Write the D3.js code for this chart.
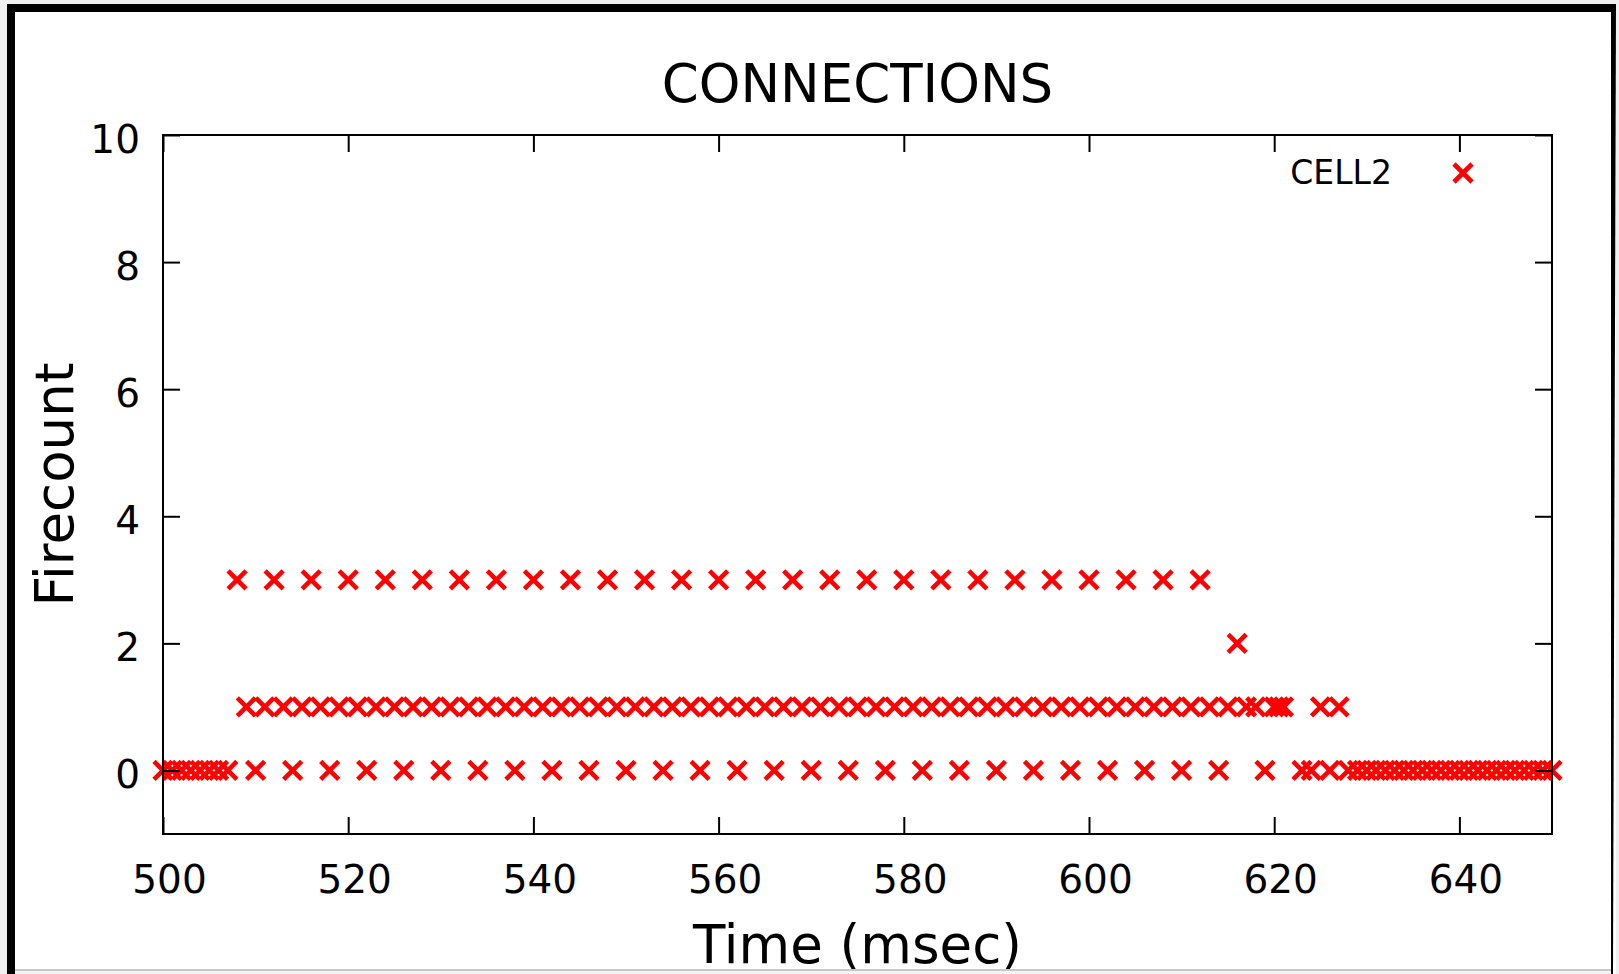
<!DOCTYPE html>
<html>
<head>
<meta charset="utf-8">
<script src="https://cdn.jsdelivr.net/npm/d3@7"></script>
<style>
  html, body { margin: 0; padding: 0; background: #f0f0f0; }
  svg { display: block; }
</style>
</head>
<body>
<div class="chart"></div>
<script>
// spike times (msec) per firecount level
const times0 = [500, 501, 502, 503, 504, 505, 506, 507,
    510, 514, 518, 522, 526, 530, 534, 538, 542, 546, 550, 554, 558, 562, 566, 570,
    574, 578, 582, 586, 590, 594, 598, 602, 606, 610, 614,
    619, 623, 624, 626,
    628, 629, 630, 631, 632, 633, 634, 635, 636, 637, 638, 639, 640, 641, 642, 643,
    644, 645, 646, 647, 648, 649, 650];
const times1 = [509, 511, 513, 515, 517, 519, 521, 523, 525, 527, 529, 531, 533, 535,
    537, 539, 541, 543, 545, 547, 549, 551, 553, 555, 557, 559, 561, 563, 565, 567,
    569, 571, 573, 575, 577, 579, 581, 583, 585, 587, 589, 591, 593, 595, 597, 599,
    601, 603, 605, 607, 609, 611, 613, 615, 617, 618, 620, 620.5, 621, 625, 627];
const times2 = [616];
const times3 = [508, 512, 516, 520, 524, 528, 532, 536, 540, 544, 548, 552, 556, 560,
    564, 568, 572, 576, 580, 584, 588, 592, 596, 600, 604, 608, 612];
const levels = [0, 1, 2, 3];
const seriesName = "CELL2";

const xTicks = [500, 520, 540, 560, 580, 600, 620, 640];
const yTicks = [0, 2, 4, 6, 8, 10];

const width = 1619;
const height = 974;
const plotL = 163, plotR = 1552, plotT = 135, plotB = 834;
const font = "'DejaVu Sans', sans-serif";

const points = [];
[times0, times1, times2, times3].forEach((arr, i) => {
    arr.forEach(t => points.push({ t: t, n: levels[i] }));
});

const x = d3.scaleLinear().domain([500, 650]).range([plotL, plotR]);
const y = d3.scaleLinear().domain([-1, 10]).range([plotB, plotT]);

const svg = d3.select(".chart")
    .append("svg")
    .attr("width", width)
    .attr("height", height);

// window background
svg.append("rect").attr("x", 7).attr("y", 4).attr("width", 1609).attr("height", 970).attr("fill", "#fff");

const cross = "M-9,-9L9,9M-9,9L9,-9";
const markW = 4.6;

svg.append("g")
    .selectAll("path")
    .data(points)
    .enter()
    .append("path")
    .attr("d", cross)
    .attr("transform", d => `translate(${x(d.t)},${y(d.n)})`)
    .attr("fill", "none")
    .attr("stroke", "#ff0000")
    .attr("stroke-width", markW);

// axes (ticks on all four sides, pointing inward)
const tickLen = 17;
const gx = svg.append("g")
    .attr("transform", `translate(0,${plotB})`)
    .call(d3.axisBottom(x).tickValues(xTicks).tickSize(-tickLen).tickFormat(d3.format("d")));
gx.selectAll("text")
    .attr("y", 59).attr("dy", 0).attr("dx", 6)
    .style("font-family", font).style("font-size", "39px").attr("fill", "#000");

svg.append("g")
    .attr("transform", `translate(0,${plotT})`)
    .call(d3.axisTop(x).tickValues(xTicks).tickSize(-tickLen).tickFormat(""));

const gy = svg.append("g")
    .attr("transform", `translate(${plotL},0)`)
    .call(d3.axisLeft(y).tickValues(yTicks).tickSize(-tickLen).tickFormat(d3.format("d")));
gy.selectAll("text")
    .attr("x", -23).attr("y", 17).attr("dy", 0)
    .style("font-family", font).style("font-size", "39px").attr("fill", "#000");

svg.append("g")
    .attr("transform", `translate(${plotR},0)`)
    .call(d3.axisRight(y).tickValues(yTicks).tickSize(-tickLen).tickFormat(""));

svg.selectAll(".domain").remove();
svg.selectAll(".tick line").attr("stroke", "#000").attr("stroke-width", 2);

svg.append("rect")
    .attr("x", plotL).attr("y", plotT)
    .attr("width", plotR - plotL).attr("height", plotB - plotT)
    .attr("fill", "none").attr("stroke", "#000").attr("stroke-width", 2);

// title and axis labels
svg.append("text")
    .attr("x", (plotL + plotR) / 2).attr("y", 102)
    .attr("text-anchor", "middle")
    .style("font-family", font).style("font-size", "53px")
    .text("CONNECTIONS");

svg.append("text")
    .attr("transform", `translate(73,${(plotT + plotB) / 2}) rotate(-90)`)
    .attr("text-anchor", "middle")
    .style("font-family", font).style("font-size", "53px")
    .text("Firecount");

svg.append("text")
    .attr("x", (plotL + plotR) / 2).attr("y", 963)
    .attr("text-anchor", "middle")
    .style("font-family", font).style("font-size", "53px")
    .text("Time (msec)");

// legend
svg.append("text")
    .attr("x", 1392).attr("y", 184)
    .attr("text-anchor", "end")
    .style("font-family", font).style("font-size", "33px")
    .text(seriesName);
svg.append("path")
    .attr("d", cross)
    .attr("transform", "translate(1463,173)")
    .attr("fill", "none")
    .attr("stroke", "#ff0000")
    .attr("stroke-width", markW);

// window frame, drawn last so it cuts off the x label
svg.append("rect").attr("x", 15).attr("y", 969).attr("width", 1596).attr("height", 2).attr("fill", "#c8c8c8");
svg.append("rect").attr("x", 15).attr("y", 971).attr("width", 1596).attr("height", 3).attr("fill", "#f4f4f4");
svg.append("rect").attr("x", 7).attr("y", 4).attr("width", 8).attr("height", 970).attr("fill", "#000");
svg.append("rect").attr("x", 7).attr("y", 4).attr("width", 1609).attr("height", 8).attr("fill", "#000");
svg.append("path").attr("d", "M1611,4L1616,4L1613,974L1611,974Z").attr("fill", "#000");
</script>
</body>
</html>
